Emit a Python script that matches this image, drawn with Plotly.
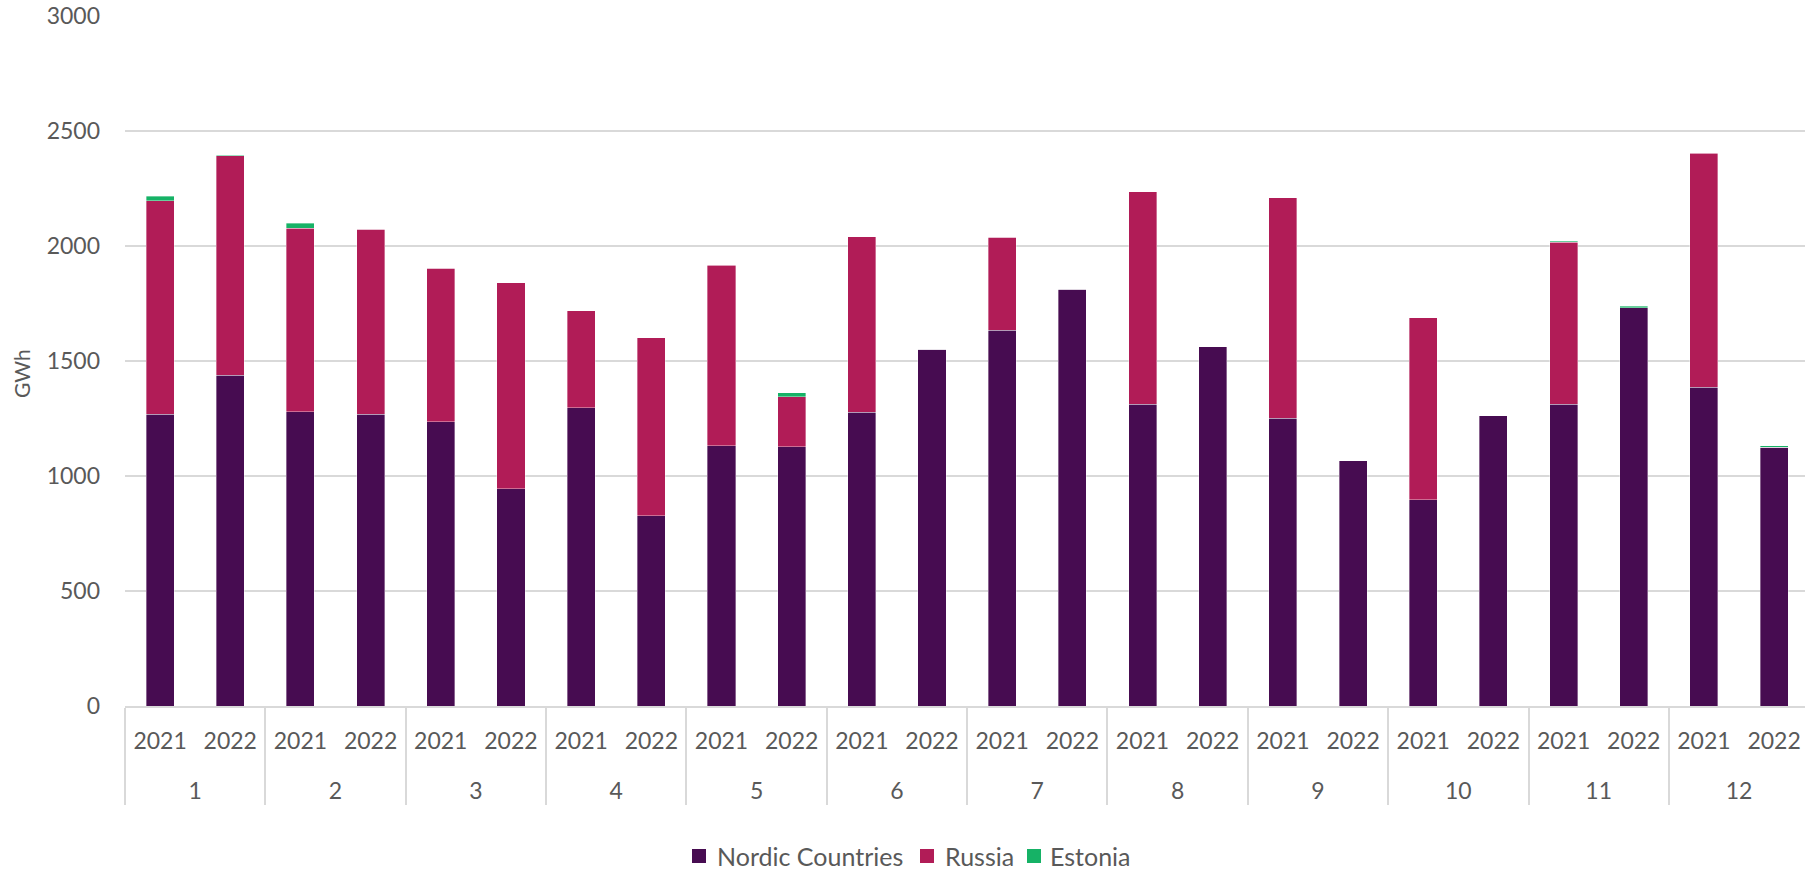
import plotly.graph_objects as go

# Monthly electricity imports by origin, 2021 vs 2022 (GWh)
months = ["1", "2", "3", "4", "5", "6", "7", "8", "9", "10", "11", "12"]
years = ["2021", "2022"]

nordic = [1268, 1439, 1280, 1268, 1236, 945, 1297, 828, 1132, 1128, 1277, 1551,
          1633, 1812, 1312, 1562, 1251, 1067, 897, 1263, 1311, 1732, 1385, 1126]
russia = [928, 954, 797, 805, 667, 895, 421, 773, 785, 217, 764, 0,
          405, 0, 924, 0, 958, 0, 790, 0, 706, 0, 1018, 0]
estonia = [21, 1, 23, 0, 0, 0, 0, 0, 1, 18, 0, 0,
           0, 2, 0, 0, 0, 0, 0, 0, 3, 7, 2, 6]

series_names = ["Nordic Countries", "Russia", "Estonia"]
series_colors = ["#470C51", "#B11C57", "#16B266"]

# two-level category axis: month on the outer level, year on the inner level;
# the inner labels carry an extra blank line to open up the gap between levels
x_outer = [m for m in months for _ in years]
x_inner = [y + "<br><span style='font-size:40px'>\u00a0</span>" for _ in months for y in years]

FONT = "Lato, 'Open Sans', sans-serif"
TXT = "#595959"
GRID = "#D9D9D9"

fig = go.Figure()
for name, vals, col in zip(series_names, [nordic, russia, estonia], series_colors):
    fig.add_trace(go.Bar(
        x=[x_outer, x_inner], y=vals, name=name,
        marker=dict(color=col, line=dict(color="rgba(255,255,255,0.45)", width=0.8)),
    ))

W, H = 1805, 872
L, R, T, B = 125, 0, 16, 166
PW, PH = W - L - R, H - T - B

fig.update_layout(
    width=W, height=H,
    barmode="stack", bargap=0.6,
    plot_bgcolor="white", paper_bgcolor="white",
    margin=dict(l=L, r=R, t=T, b=B, pad=0),
    font=dict(family=FONT, size=23, color=TXT),
    showlegend=False,
)

fig.update_xaxes(
    type="multicategory",
    range=[-0.5, 23.44],
    showline=True, linecolor=GRID, linewidth=1.5,
    showgrid=False, zeroline=False,
    ticks="", ticklabelstandoff=14,
    showdividers=True, dividercolor=GRID, dividerwidth=1.5,
    tickfont=dict(family=FONT, size=23, color=TXT),
)
fig.update_yaxes(
    range=[0, 3000], dtick=500, tick0=0,
    showgrid=True, gridcolor=GRID, gridwidth=1.5,
    zeroline=False, showline=False,
    ticks="", ticklabelstandoff=24,
    tickfont=dict(family=FONT, size=23, color=TXT),
)

# rotated axis title
fig.add_annotation(
    text="GWh", xref="paper", yref="paper",
    x=(21 - L) / PW, y=(H - B - 374) / PH,
    xanchor="center", yanchor="middle", textangle=-90, showarrow=False,
    font=dict(family=FONT, size=21, color=TXT),
)

# legend row below the chart: colour key square followed by the series name
legend_square_x = [692, 920, 1027]
legend_text_x = [715, 943, 1048]
legend_y, sq = 856, 14
for name, col, sx, tx in zip(series_names, series_colors, legend_square_x, legend_text_x):
    fig.add_shape(
        type="rect", xref="paper", yref="paper",
        x0=(sx - L) / PW, x1=(sx + sq - L) / PW,
        y0=(H - B - legend_y - sq / 2) / PH, y1=(H - B - legend_y + sq / 2) / PH,
        fillcolor=col, line=dict(width=0),
    )
    fig.add_annotation(
        text=name, xref="paper", yref="paper",
        x=(tx - L) / PW, y=(H - B - legend_y) / PH,
        xanchor="left", yanchor="middle", showarrow=False,
        font=dict(family=FONT, size=25, color=TXT),
    )

fig.write_html("out.html")
